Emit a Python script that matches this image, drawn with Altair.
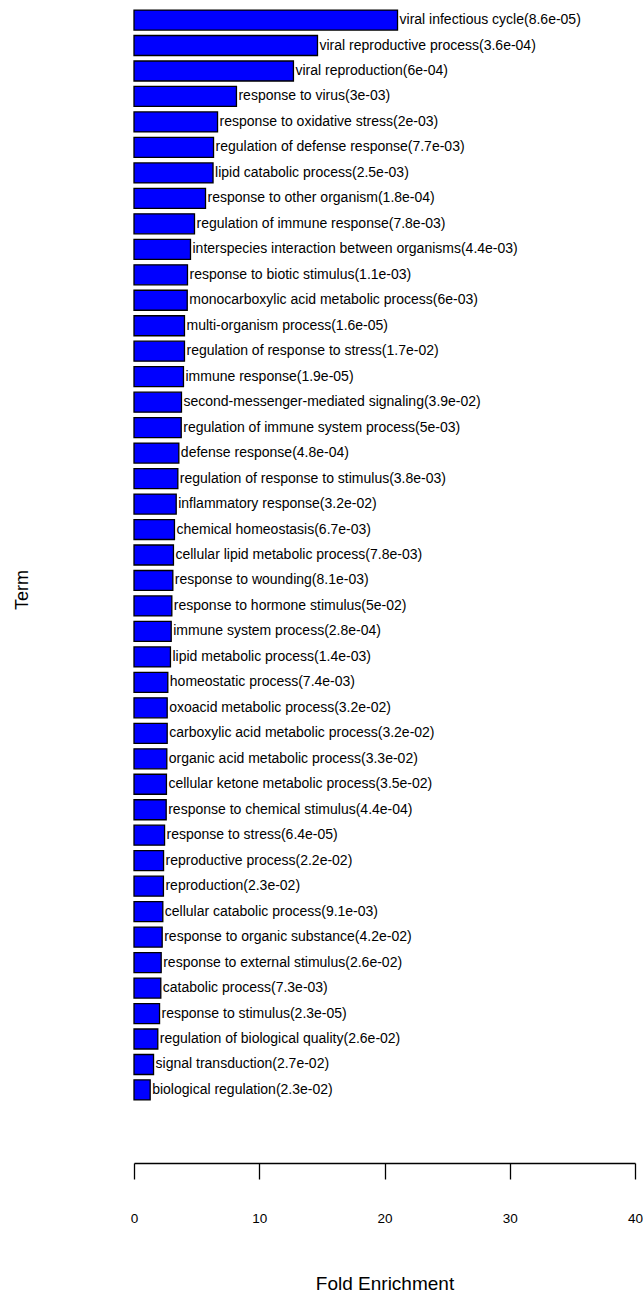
import altair as alt
import pandas as pd

# GO biological-process terms, ordered from highest to lowest fold enrichment
terms = [
    "viral infectious cycle", "viral reproductive process", "viral reproduction",
    "response to virus", "response to oxidative stress", "regulation of defense response",
    "lipid catabolic process", "response to other organism", "regulation of immune response",
    "interspecies interaction between organisms", "response to biotic stimulus",
    "monocarboxylic acid metabolic process", "multi-organism process",
    "regulation of response to stress", "immune response", "second-messenger-mediated signaling",
    "regulation of immune system process", "defense response",
    "regulation of response to stimulus", "inflammatory response", "chemical homeostasis",
    "cellular lipid metabolic process", "response to wounding", "response to hormone stimulus",
    "immune system process", "lipid metabolic process", "homeostatic process",
    "oxoacid metabolic process", "carboxylic acid metabolic process",
    "organic acid metabolic process", "cellular ketone metabolic process",
    "response to chemical stimulus", "response to stress", "reproductive process",
    "reproduction", "cellular catabolic process", "response to organic substance",
    "response to external stimulus", "catabolic process", "response to stimulus",
    "regulation of biological quality", "signal transduction", "biological regulation",
]

fold_enrichment = [
    21.04, 14.65, 12.73, 8.18, 6.67, 6.35, 6.31, 5.71, 4.83, 4.51, 4.27, 4.25, 4.03,
    4.03, 3.95, 3.79, 3.77, 3.58, 3.50, 3.37, 3.23, 3.15, 3.10, 3.02, 2.97, 2.91,
    2.70, 2.65, 2.65, 2.62, 2.59, 2.57, 2.44, 2.36, 2.35, 2.30, 2.25, 2.17, 2.14,
    2.04, 1.90, 1.56, 1.29,
]

p_values = [
    "8.6e-05", "3.6e-04", "6e-04", "3e-03", "2e-03", "7.7e-03", "2.5e-03", "1.8e-04",
    "7.8e-03", "4.4e-03", "1.1e-03", "6e-03", "1.6e-05", "1.7e-02", "1.9e-05", "3.9e-02",
    "5e-03", "4.8e-04", "3.8e-03", "3.2e-02", "6.7e-03", "7.8e-03", "8.1e-03", "5e-02",
    "2.8e-04", "1.4e-03", "7.4e-03", "3.2e-02", "3.2e-02", "3.3e-02", "3.5e-02",
    "4.4e-04", "6.4e-05", "2.2e-02", "2.3e-02", "9.1e-03", "4.2e-02", "2.6e-02",
    "7.3e-03", "2.3e-05", "2.6e-02", "2.7e-02", "2.3e-02",
]

x_ticks = [0, 10, 20, 30, 40]

df = pd.DataFrame({
    "term": terms,
    "fe": fold_enrichment,
    "label": [f"{t}({p})" for t, p in zip(terms, p_values)],
})

FONT = "Liberation Sans"

y_enc = alt.Y(
    "term:N",
    sort=terms,
    scale=alt.Scale(paddingInner=0.215, paddingOuter=0.1),
    axis=alt.Axis(
        title="Term", labels=False, ticks=False, domain=False, grid=False,
        titleAngle=270, titleX=-112, titleY=582, titleAlign="center",
        titleBaseline="middle", titleFont=FONT, titleFontSize=18,
        titleFontWeight="normal", titleColor="black",
    ),
)

x_enc = alt.X(
    "fe:Q",
    scale=alt.Scale(domain=[0, 40], nice=False, zero=True),
    axis=alt.Axis(
        title="Fold Enrichment", values=x_ticks, format="d", grid=False,
        offset=60.5, tickSize=16, tickColor="black", tickWidth=1.3,
        domainColor="black", domainWidth=1.3,
        labelFont=FONT, labelFontSize=13.5, labelColor="black", labelPadding=32,
        labelBaseline="top", labelFlush=False,
        titleFont=FONT, titleFontSize=19, titleFontWeight="normal", titleColor="black",
        titleY=120, titleBaseline="middle",
    ),
)

bars = alt.Chart(df).mark_bar(
    fill="#0000FF", stroke="black", strokeWidth=1.3
).encode(x=x_enc, y=y_enc)

labels = alt.Chart(df).mark_text(
    align="left", baseline="middle", dx=2, font=FONT, fontSize=14, color="black"
).encode(x=alt.X("fe:Q"), y=alt.Y("term:N", sort=terms), text="label:N")

chart = (
    alt.layer(bars, labels)
    .properties(
        width=501, height=1095,
        autosize=alt.AutoSizeParams(type="none"),
        padding={"left": 134, "top": 7.5, "right": 8, "bottom": 190.5},
        background="white",
    )
    .configure_view(stroke=None)
)

chart.save("out.html", embed_options={"renderer": "svg", "actions": False})
